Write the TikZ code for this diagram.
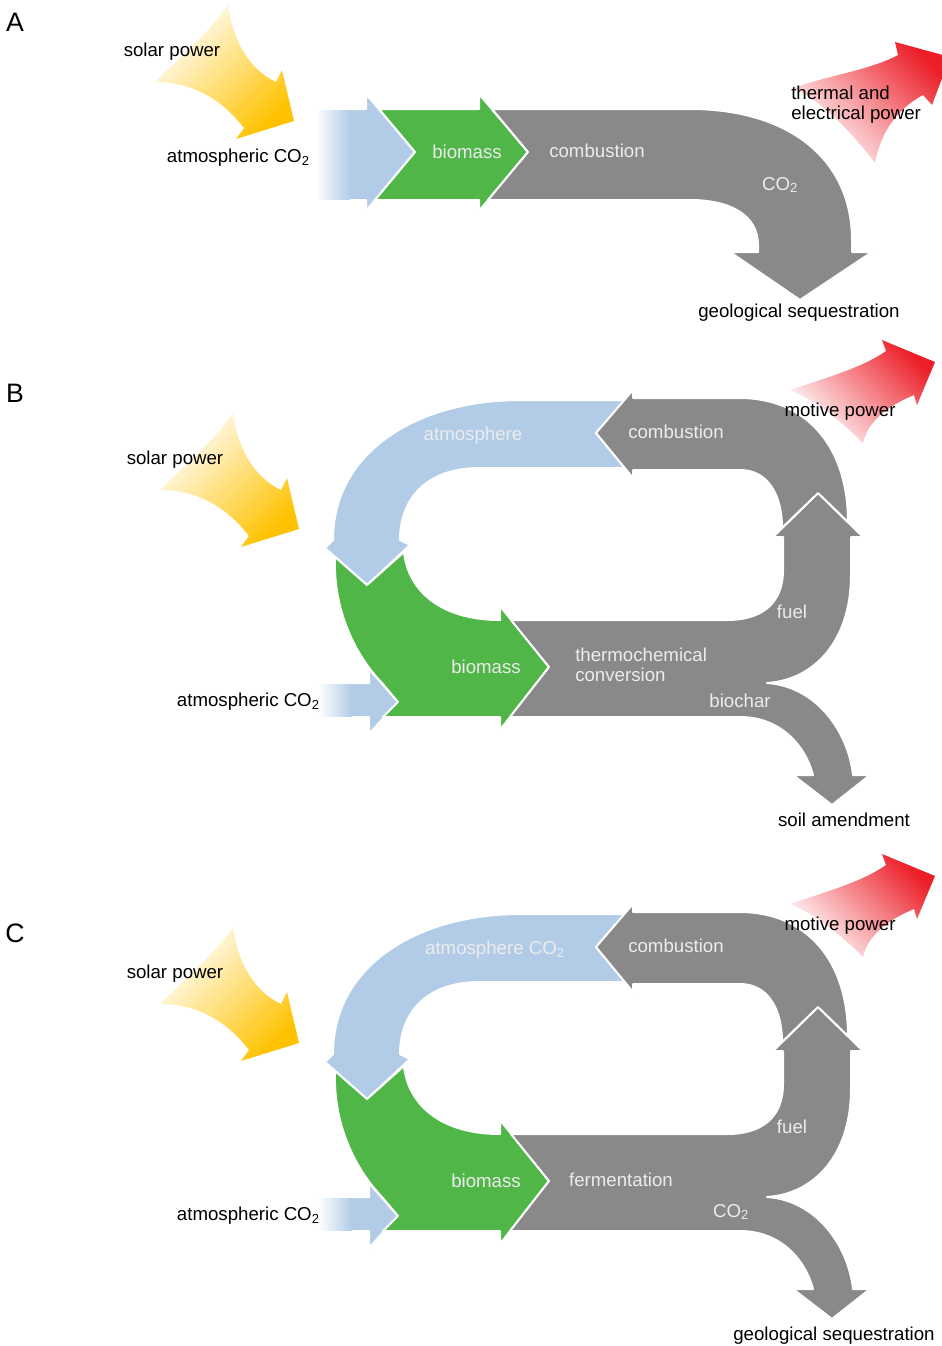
\documentclass[tikz,border=0pt]{standalone}
\usepackage{fontspec}
\setmainfont{Liberation Sans}
\usetikzlibrary{positioning}

\definecolor{flowgray}{RGB}{137,137,137}
\definecolor{leafgreen}{RGB}{80,182,72}
\definecolor{skyblue}{RGB}{178,204,232}
\definecolor{heatred}{RGB}{236,30,40}
\definecolor{sunyellow}{RGB}{255,194,0}
\definecolor{labelgray}{RGB}{236,236,236}

\begin{document}
\begin{tikzpicture}[x=0.75pt,y=-0.75pt,
    flow/.style={draw=white,line width=1.5pt,line join=round},
    sunray/.style={top color=white,middle color=sunyellow!35,bottom color=sunyellow,shading angle=45},
    heatray/.style={top color=heatred,middle color=heatred!35,bottom color=white,shading angle=-45},
    txt/.style={inner sep=0pt,font=\fontsize{14}{15}\selectfont},
    onflow/.style={txt,text=labelgray},
    panel/.style={inner sep=0pt,font=\fontsize{20}{22}\selectfont}]
\useasboundingbox (0,0) rectangle (942,1346);

% A: straight chain
\begin{scope}[shift={(-5,-408)}]
\shade[sunray] (233,413) .. controls (238,450) and (255,478) .. (281,490) -- (287,478) -- (299,529) -- (241,547) -- (249,536)
    .. controls (225,505) and (195,490) .. (160,490) .. controls (185,465) and (215,440) .. cycle;
\end{scope}
\shade[heatray] (793,88) .. controls (830,75) and (870,70) .. (898,55) -- (895,42) -- (950,57) -- (932,105) -- (923,95)
    .. controls (895,110) and (880,135) .. (875,163) .. controls (850,130) and (820,100) .. cycle;
\filldraw[flow,fill=skyblue] (317,109) -- (366,109) -- (366,94) -- (415,152) -- (366,211) -- (366,200) -- (317,200) -- cycle;
\shade[left color=white,right color=skyblue] (315,110) rectangle (350,199);
\filldraw[flow,fill=leafgreen] (379,109) -- (479,109) -- (479,94) -- (528,152) -- (479,211) -- (479,200) -- (375,200) -- (415,152) -- cycle;
\filldraw[flow,fill=flowgray] (492,109) -- (690,109) .. controls (790,109) and (852,160) .. (852,240) -- (852,252) -- (872,252) -- (800,300)
    -- (730,252) -- (758,252) -- (758,245) .. controls (758,215) and (730,200) .. (690,200) -- (488,200) -- (528,152) -- cycle;

% B and C: closed loop
\foreach \dy in {0,514}{
\begin{scope}[shift={(0,\dy)}]
\shade[sunray] (233,413) .. controls (238,450) and (255,478) .. (281,490) -- (287,478) -- (299,529) -- (241,547) -- (249,536)
    .. controls (225,505) and (195,490) .. (160,490) .. controls (185,465) and (215,440) .. cycle;
\shade[heatray] (790,390) .. controls (825,378) and (862,368) .. (886,351) -- (882,340) -- (935,362) -- (917,405) -- (914,395)
    .. controls (890,405) and (868,420) .. (863,443) .. controls (840,420) and (815,400) .. cycle;
\filldraw[flow,fill=skyblue] (625,400) -- (520,400) .. controls (420,400) and (333,450) .. (333,540) -- (325,548) -- (367,585) -- (410,545)
    -- (400,540) .. controls (400,500) and (425,468) .. (480,468) -- (625,468) -- (596,433) -- cycle;
\filldraw[flow,fill=skyblue] (320,683) -- (369,683) -- (369,669) -- (398,702) -- (369,734) -- (369,717) -- (320,717) -- cycle;
\shade[left color=white,right color=skyblue] (318,684) rectangle (352,716);
\filldraw[flow,fill=leafgreen] (335,557) .. controls (333,610) and (355,655) .. (382,683) -- (398,702) -- (383,717) -- (500,717)
    -- (500,730) -- (549,667) -- (500,606) -- (500,620) .. controls (440,620) and (408,590) .. (404,552) -- (367,585) -- cycle;
\filldraw[flow,fill=flowgray] (511,620) -- (727,620) .. controls (760,620) and (783,605) .. (783,570) -- (783,537) -- (773,537)
    -- (818,493) -- (863,537) -- (851,537) -- (851,575) .. controls (851,640) and (815,680) .. (767,683)
    .. controls (815,686) and (848,730) .. (853,775) -- (870,775) -- (832,805) -- (793,775) -- (813,775)
    .. controls (805,745) and (780,717) .. (740,717) -- (510,717) -- (549,667) -- cycle;
\filldraw[flow,fill=flowgray] (633,390) -- (633,398) -- (740,398) .. controls (805,398) and (848,445) .. (848,522) -- (818,493)
    -- (782,528) .. controls (782,495) and (768,470) .. (740,470) -- (633,470) -- (633,478) -- (596,433) -- cycle;
\end{scope}
}

% labels A
\node[panel] (pA) at (15,22) {A};
\node[txt] (sunA) at (172,52) {solar power};
\node[txt,anchor=east] (airA) at (310,158) {atmospheric CO\textsubscript{2}};
\node[onflow] (bioA) at (467,152) {biomass};
\node[onflow] (combA) at (597,151) {combustion};
\node[onflow] (co2A) at (780,185) {CO\textsubscript{2}};
\node[txt,align=left,anchor=west] (powA) at (791,105) {thermal and\\electrical power};
\node[txt] (geoA) at (799,313) {geological sequestration};

% labels B
\node[panel] (pB) at (15,393) {B};
\node[txt] (sunB) at (175,460) {solar power};
\node[txt,anchor=east] (airB) at (320,702) {atmospheric CO\textsubscript{2}};
\node[onflow] (atmB) at (473,436) {atmosphere};
\node[onflow] (combB) at (676,432) {combustion};
\node[txt] (motB) at (840,412) {motive power};
\node[onflow] (fuelB) at (792,612) {fuel};
\node[onflow,align=left,anchor=west] (thermB) at (575,665) {thermochemical\\conversion};
\node[onflow] (bioB) at (486,667) {biomass};
\node[onflow] (charB) at (740,701) {biochar};
\node[txt] (soilB) at (844,820) {soil amendment};

% labels C
\node[panel] (pC) at (15,933) {C};
\node[txt] (sunC) at (175,974) {solar power};
\node[txt,anchor=east] (airC) at (320,1216) {atmospheric CO\textsubscript{2}};
\node[onflow] (atmC) at (495,950) {atmosphere CO\textsubscript{2}};
\node[onflow] (combC) at (676,946) {combustion};
\node[txt] (motC) at (840,926) {motive power};
\node[onflow] (fuelC) at (792,1127) {fuel};
\node[onflow] (fermC) at (621,1180) {fermentation};
\node[onflow] (bioC) at (486,1181) {biomass};
\node[onflow] (co2C) at (731,1212) {CO\textsubscript{2}};
\node[txt] (geoC) at (834,1336) {geological sequestration};
\end{tikzpicture}
\end{document}
